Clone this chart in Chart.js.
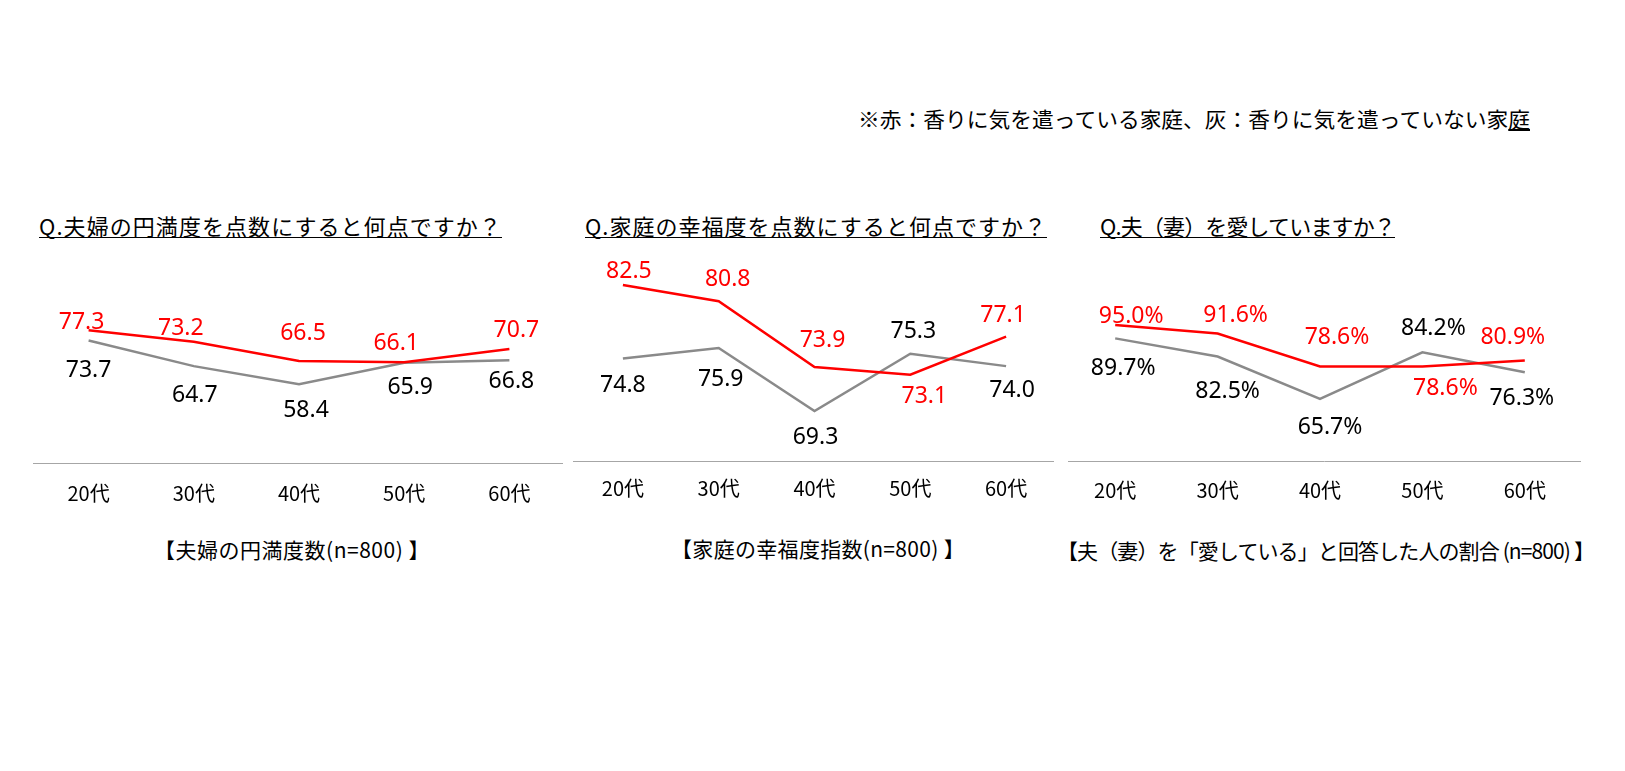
<!DOCTYPE html>
<html lang="ja">
<head>
<meta charset="utf-8">
<script src="https://cdn.jsdelivr.net/npm/chart.js@4.4.0/dist/chart.umd.min.js"></script>
<style>
  html, body { margin: 0; padding: 0; background: #fff; }
  body { width: 1625px; height: 771px; position: relative; overflow: hidden;
         font-family: "Noto Sans CJK JP", "Noto Sans", sans-serif; color: #000; }
  .txt { position: absolute; white-space: nowrap; line-height: 1; }
  .title { font-size: 22px; padding-bottom: 1px; border-bottom: 1.5px solid #000; }
  .sub { font-size: 21px; }
  .note { font-size: 21px; transform-origin: 0 50%; }
  canvas { position: absolute; }
</style>
</head>
<body>

<div class="txt note" id="note" style="left:858px; top:108px;">※赤：香りに気を遣っている家庭、灰：香りに気を遣っていない家<span style="text-decoration:underline">庭</span></div>

<div class="txt title" id="t1" style="left:39px; top:214px;">Q.夫婦の円満度を点数にすると何点ですか？</div>
<div class="txt title" id="t2" style="left:585px; top:214px;">Q.家庭の幸福度を点数にすると何点ですか？</div>
<div class="txt title" id="t3" style="left:1100px; top:214px;">Q.夫（妻）を愛していますか？</div>

<canvas id="c1"></canvas>
<canvas id="c2"></canvas>
<canvas id="c3"></canvas>

<div class="txt sub" id="s1" style="left:154px; top:539px;">【夫婦の円満度数(n=800) 】</div>
<div class="txt sub" id="s2" style="left:671px; top:538px;">【家庭の幸福度指数(n=800) 】</div>
<div class="txt sub" id="s3" style="left:1057px; top:540px;">【夫（妻）を「愛している」と回答した人の割合 (n=800) 】</div>

<script>
// 年代
const AGES = ["20代", "30代", "40代", "50代", "60代"];

// 夫婦の円満度
const ENMAN_RED = [77.3, 73.2, 66.5, 66.1, 70.7];
const ENMAN_GRAY = [73.7, 64.7, 58.4, 65.9, 66.8];

// 家庭の幸福度
const KOFUKU_RED = [82.5, 80.8, 73.9, 73.1, 77.1];
const KOFUKU_GRAY = [74.8, 75.9, 69.3, 75.3, 74.0];

// 夫（妻）を愛している (%)
const AI_RED = [95.0, 91.6, 78.6, 78.6, 80.9];
const AI_GRAY = [89.7, 82.5, 65.7, 84.2, 76.3];

const RED = "#ff0000";
const GRAY = "#8a8a8a";

// label nudges from each point, px
const NUDGE = {
  enmanRed:   [[-7, -8], [-13, -13], [4, -28], [-8, -19], [7, -19]],
  enmanGray:  [[0, 30], [1, 29], [7, 26], [6, 25], [2, 21]],
  kofukuRed:  [[6, -14], [9, -22], [8, -27], [14, 22], [-3, -21]],
  kofukuGray: [[0, 27], [2, 31], [1, 26], [3, -22], [6, 24]],
  aiRed:      [[16, -9], [18, -18], [17, -29], [23, 22], [-12, -23]],
  aiGray:     [[8, 30], [10, 35], [10, 28], [11, -24], [-3, 26]],
};

function fitSpacing(id, target) {
  const el = document.getElementById(id);
  const w = el.getBoundingClientRect().width;
  el.style.letterSpacing = ((target - w) / el.textContent.length) + "px";
}

function fitScale(id, target) {
  const el = document.getElementById(id);
  const w = el.getBoundingClientRect().width;
  el.style.transform = "scaleX(" + (target / w) + ")";
}

fitScale("note", 672);
fitSpacing("t1", 463);
fitSpacing("t2", 462);
fitSpacing("t3", 295);
fitSpacing("s1", 276);
fitSpacing("s2", 294);
fitSpacing("s3", 537);

const pointLabels = {
  id: "pointLabels",
  afterDatasetsDraw(chart, args, opts) {
    const ctx = chart.ctx;
    ctx.save();
    ctx.font = "23px 'Noto Sans', sans-serif";
    ctx.textAlign = "center";
    ctx.textBaseline = "middle";
    chart.data.datasets.forEach((ds, i) => {
      const meta = chart.getDatasetMeta(i);
      ctx.fillStyle = ds.labelColor;
      meta.data.forEach((pt, j) => {
        const [dx, dy] = ds.nudge[j];
        ctx.fillText(ds.data[j].toFixed(1) + (opts.suffix || ""), pt.x + dx, pt.y + dy);
      });
    });
    ctx.restore();
  }
};

const baseLine = {
  id: "baseLine",
  beforeDatasetsDraw(chart, args, opts) {
    const { ctx, chartArea } = chart;
    const y = Math.round(chartArea.bottom) + 0.5;
    ctx.save();
    ctx.strokeStyle = "#a6a6a6";
    ctx.lineWidth = 1;
    ctx.beginPath();
    ctx.moveTo(opts.from || 0, y);
    ctx.lineTo(chart.width - (opts.trim || 0), y);
    ctx.stroke();
    ctx.restore();
  }
};

function makeChart(cfg) {
  const cv = document.getElementById(cfg.id);
  cv.width = cfg.w;
  cv.height = 260;
  cv.style.left = cfg.left + "px";
  cv.style.top = cfg.top + "px";
  cv.style.width = cfg.w + "px";
  cv.style.height = "260px";

  return new Chart(cv, {
    type: "line",
    data: {
      labels: AGES,
      datasets: [
        { data: cfg.red, borderColor: RED, borderWidth: 2.5, pointRadius: 0,
          tension: 0, labelColor: RED, nudge: cfg.redNudge },
        { data: cfg.gray, borderColor: GRAY, borderWidth: 2.5, pointRadius: 0,
          tension: 0, labelColor: "#000", nudge: cfg.grayNudge },
      ],
    },
    options: {
      responsive: false,
      animation: false,
      layout: { padding: { top: cfg.padTop, left: cfg.padLeft, right: cfg.padRight, bottom: 0 } },
      plugins: {
        legend: { display: false },
        tooltip: { enabled: false },
        pointLabels: { suffix: cfg.suffix },
        baseLine: { from: cfg.lineFrom, trim: 0 },
      },
      scales: {
        x: {
          offset: true,
          grid: { display: false, drawTicks: false },
          border: { display: false },
          ticks: {
            color: "#000",
            padding: cfg.tickPad,
            maxRotation: 0,
            font: { family: "'Noto Sans CJK JP', sans-serif", size: 20, lineHeight: 1.2 },
          },
          afterFit(scale) { scale.height = 50; },
        },
        y: { display: false, min: cfg.min, max: cfg.max },
      },
    },
    plugins: [baseLine, pointLabels],
  });
}

makeChart({ id: "c1", left: 33, top: 253, w: 530, padTop: 7, padLeft: 3, padRight: 1,
  red: ENMAN_RED, gray: ENMAN_GRAY, redNudge: NUDGE.enmanRed, grayNudge: NUDGE.enmanGray,
  min: 30.8, max: 101.85, tickPad: 18, suffix: "", lineFrom: 0 });

makeChart({ id: "c2", left: 573, top: 251, w: 481, padTop: 9, padLeft: 2, padRight: 0,
  red: KOFUKU_RED, gray: KOFUKU_GRAY, redNudge: NUDGE.kofukuRed, grayNudge: NUDGE.kofukuGray,
  min: 64.06, max: 85.12, tickPad: 15, suffix: "", lineFrom: 0 });

makeChart({ id: "c3", left: 1064, top: 251, w: 517, padTop: 9, padLeft: 0, padRight: 5,
  red: AI_RED, gray: AI_GRAY, redNudge: NUDGE.aiRed, grayNudge: NUDGE.aiGray,
  min: 41.16, max: 120.73, tickPad: 17, suffix: "%", lineFrom: 4 });
</script>
</body>
</html>
